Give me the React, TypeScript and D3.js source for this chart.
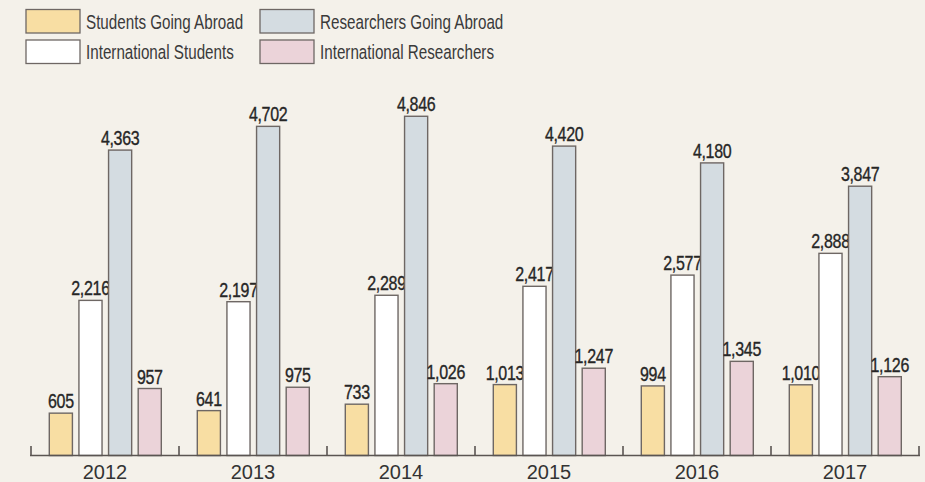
import React from "react";
import * as d3 from "d3";

const years = ["2012", "2013", "2014", "2015", "2016", "2017"];
const seriesNames = [
  "Students Going Abroad",
  "International Students",
  "Researchers Going Abroad",
  "International Researchers",
];
const studentsAbroad = [605, 641, 733, 1013, 994, 1010];
const intlStudents = [2216, 2197, 2289, 2417, 2577, 2888];
const researchersAbroad = [4363, 4702, 4846, 4420, 4180, 3847];
const intlResearchers = [957, 975, 1026, 1247, 1345, 1126];
const colors = ["#f8dea3", "#ffffff", "#d4dce1", "#ebd3d9"];

const seriesValues = [studentsAbroad, intlStudents, researchersAbroad, intlResearchers];

const W = 925;
const H = 482;
const baseY = 455.5;
const fmt = d3.format(",");
const sansFont = "'Liberation Sans', Arial, Helvetica, sans-serif";

export default function App() {
  const x0 = d3.scaleBand<string>().domain(years).range([31, 919]).padding(0);
  const x1 = d3
    .scaleBand<number>()
    .domain([0, 1, 2, 3])
    .range([18.3, 130.3])
    .paddingInner(0.22)
    .paddingOuter(0);
  const y = d3.scaleLinear().domain([0, 5000]).range([baseY, baseY - 350]);

  const legendPos = [
    { x: 26, y: 9.5 },
    { x: 26, y: 40 },
    { x: 260, y: 9.5 },
    { x: 260, y: 40 },
  ];

  return (
    <svg
      width={W}
      height={H}
      style={{ position: "absolute", left: 0, top: 0, background: "#f4f1ea" }}
    >
      <rect x={0} y={0} width={W} height={H} fill="#f4f1ea" />
      {seriesNames.map((name, i) => (
        <g key={name}>
          <rect
            x={legendPos[i].x}
            y={legendPos[i].y}
            width={54}
            height={23.5}
            fill={colors[i]}
            stroke="#6e6764"
            strokeWidth={1.3}
          />
          <text
            transform={`translate(${legendPos[i].x + 60},${legendPos[i].y + 19}) scale(0.78,1)`}
            x={0}
            y={0}
            fontFamily={sansFont}
            fontSize={19.5}
            fill="#3a3a3a"
          >
            {name}
          </text>
        </g>
      ))}

      {years.map((yr, gi) => (
        <g key={yr} transform={`translate(${x0(yr)},0)`}>
          {seriesValues.map((vals, si) => {
            const v = vals[gi];
            const bx = x1(si)!;
            const bw = x1.bandwidth();
            const top = y(v);
            return (
              <g key={si}>
                <rect
                  x={bx}
                  y={top}
                  width={bw}
                  height={baseY - top}
                  fill={colors[si]}
                  stroke="#6e6764"
                  strokeWidth={1.4}
                />
                <text
                  transform={`translate(${bx + bw / 2},${top - 5}) scale(0.8,1)`}
                  x={0}
                  y={0}
                  textAnchor="middle"
                  fontFamily={sansFont}
                  fontSize={20}
                  fill="#262626"
                  stroke="#262626"
                  strokeWidth={0.35}
                  letterSpacing={-0.4}
                >
                  {fmt(v)}
                </text>
              </g>
            );
          })}
          <text
            x={x0.bandwidth() / 2}
            y={479}
            textAnchor="middle"
            fontFamily={sansFont}
            fontSize={20}
            fill="#333"
          >
            {yr}
          </text>
        </g>
      ))}

      <line x1={30} x2={920} y1={baseY} y2={baseY} stroke="#5a5552" strokeWidth={1.6} />
      {[...years.map((yr) => x0(yr)!), 919].map((tx, i) => (
        <line key={i} x1={tx} x2={tx} y1={baseY} y2={446} stroke="#5a5552" strokeWidth={1.6} />
      ))}
    </svg>
  );
}
